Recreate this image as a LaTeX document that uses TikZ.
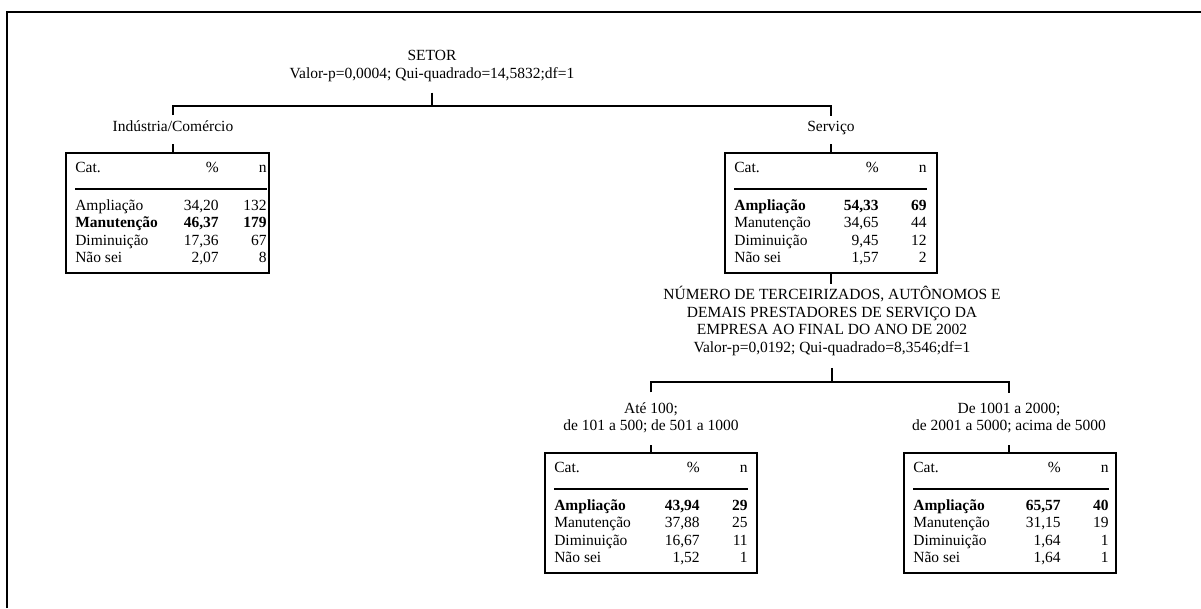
\documentclass[tikz,border=0pt]{standalone}
\usepackage{fontspec}
\setmainfont{Liberation Serif}
\usetikzlibrary{calc}
\tikzset{
  conn/.style={line width=1.8pt},
  lbl/.style={inner sep=0pt, align=center, font=\fontsize{15.5}{17.5}\selectfont},
  tbox/.style={draw, line width=1.8pt, inner sep=0pt, minimum height=120pt},
  cell/.style={inner sep=0pt, font=\fontsize{15.5}{17.5}\selectfont},
  tabrule/.style={line width=2pt}
}
% #1 box, #2 row id, #3 baseline offset, #4 cat, #5 pct, #6 n, #7 pct offset, #8 n offset
\newcommand\tabrow[8]{%
  \node[cell, anchor=base west] (#1-#2a) at ($(#1.north west)+(10,#3)$) {#4};
  \node[cell, anchor=base east] (#1-#2b) at ($(#1.north east)+(-#7,#3)$) {#5};
  \node[cell, anchor=base east] (#1-#2c) at ($(#1.north east)+(-#8,#3)$) {#6};
}
\newcommand\tabhead[3]{%
  \tabrow{#1}{h}{20}{Cat.}{\%}{n}{#2}{#3}
  \draw[tabrule] ($(#1.north west)+(10,37)$) -- ($(#1.north east)+(-#3,37)$);
}
\begin{document}
\begin{tikzpicture}[x=1pt,y=-1pt]
\useasboundingbox (0,0) rectangle (1201,608);
% frame
\draw[line width=2pt] (7,608) -- (7,12) -- (1201,12);

% root
\node[lbl] (setor) at (432,66) {SETOR\\Valor-p=0,0004; Qui-quadrado=14,5832;df=1};
\coordinate (j1) at (432,106);
\draw[conn, shorten <=11pt] (setor.south) -- (j1);

\node[lbl, anchor=base] (ind) at (173,131) {Indústria/Comércio};
\node[lbl, anchor=base] (serv) at (831,131) {Serviço};
\draw[conn, shorten <=5pt, shorten >=5pt] (ind.north) |- (j1) -| (serv.north);

% left box
\node[tbox, minimum width=203pt] (b1) at (167.5,213) {};
\draw[conn] ([yshift=-13pt]ind.base) -- (ind.base |- b1.north);
\tabhead{b1}{51}{3}
\tabrow{b1}{1}{58}{Ampliação}{34,20}{132}{51}{3}
\tabrow{b1}{2}{75.5}{\textbf{Manutenção}}{\textbf{46,37}}{\textbf{179}}{51}{3}
\tabrow{b1}{3}{93}{Diminuição}{17,36}{67}{51}{3}
\tabrow{b1}{4}{110.5}{Não sei}{2,07}{8}{51}{3}

% right box
\node[tbox, minimum width=212pt] (b2) at (831,213) {};
\draw[conn] ([yshift=-13pt]serv.base) -- (serv.base |- b2.north);
\tabhead{b2}{59}{11}
\tabrow{b2}{1}{58}{\textbf{Ampliação}}{\textbf{54,33}}{\textbf{69}}{59}{11}
\tabrow{b2}{2}{75.5}{Manutenção}{34,65}{44}{59}{11}
\tabrow{b2}{3}{93}{Diminuição}{9,45}{12}{59}{11}
\tabrow{b2}{4}{110.5}{Não sei}{1,57}{2}{59}{11}

% second split
\node[lbl] (num) at (832,321) {NÚMERO DE TERCEIRIZADOS, AUTÔNOMOS E\\DEMAIS PRESTADORES DE SERVIÇO DA\\EMPRESA AO FINAL DO ANO DE 2002\\Valor-p=0,0192; Qui-quadrado=8,3546;df=1};
\draw[conn, shorten >=2pt] (b2.south) -- (b2.south |- num.north);
\coordinate (j2) at (832,382);
\draw[conn, shorten <=12pt] (num.south) -- (j2);

\node[lbl, anchor=south] (l3) at (651,433.5) {Até 100;\\de 101 a 500; de 501 a 1000};
\node[lbl, anchor=south] (l4) at (1009,433.5) {De 1001 a 2000;\\de 2001 a 5000; acima de 5000};
\draw[conn, shorten <=10pt, shorten >=10pt] (l3.north) |- (j2) -| (l4.north);

% bottom-left box
\node[tbox, minimum width=212pt] (b3) at (651,513) {};
\draw[conn, shorten <=11.5pt] (l3.south) -- (l3.south |- b3.north);
\tabhead{b3}{58}{10}
\tabrow{b3}{1}{58}{\textbf{Ampliação}}{\textbf{43,94}}{\textbf{29}}{58}{10}
\tabrow{b3}{2}{75.5}{Manutenção}{37,88}{25}{58}{10}
\tabrow{b3}{3}{93}{Diminuição}{16,67}{11}{58}{10}
\tabrow{b3}{4}{110.5}{Não sei}{1,52}{1}{58}{10}

% bottom-right box
\node[tbox, minimum width=212pt] (b4) at (1010,513) {};
\draw[conn, shorten <=11.5pt] (l4.south) -- (l4.south |- b4.north);
\tabhead{b4}{56}{8}
\tabrow{b4}{1}{58}{\textbf{Ampliação}}{\textbf{65,57}}{\textbf{40}}{56}{8}
\tabrow{b4}{2}{75.5}{Manutenção}{31,15}{19}{56}{8}
\tabrow{b4}{3}{93}{Diminuição}{1,64}{1}{56}{8}
\tabrow{b4}{4}{110.5}{Não sei}{1,64}{1}{56}{8}
\end{tikzpicture}
\end{document}
